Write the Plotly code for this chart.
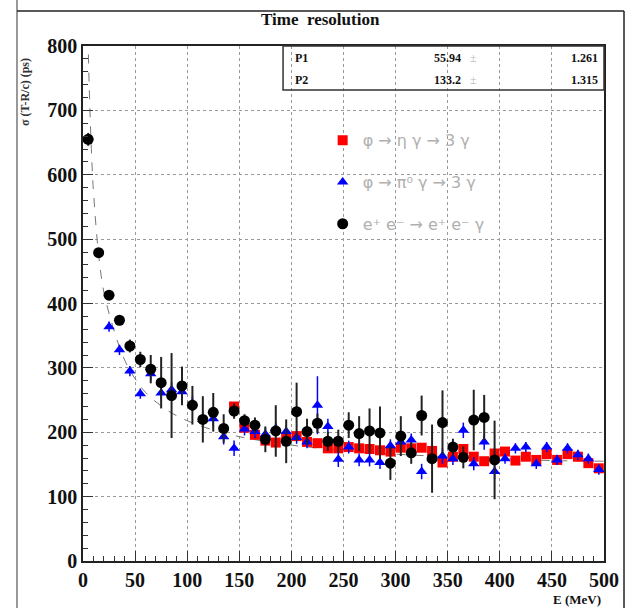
import plotly.graph_objects as go

# ---------------- data ----------------
E_black = [5, 15, 25, 35, 45, 55, 65, 75, 85, 95, 105, 115, 125, 135, 145, 155, 165, 175, 185, 195,
           205, 215, 225, 235, 245, 255, 265, 275, 285, 295, 305, 315, 325, 335, 345, 355, 365, 375, 385, 395]
sig_black = [655, 479, 413, 374, 334, 313, 298, 277, 257, 272, 242, 220, 231, 206, 233, 218, 211, 189, 202, 186,
             232, 201, 214, 186, 186, 211, 198, 202, 199, 152, 194, 168, 226, 159, 215, 177, 161, 219, 223, 157]
err_black = [10, 6, 6, 6, 10, 12, 22, 40, 66, 30, 30, 36, 30, 22, 12, 10, 12, 20, 40, 34,
             45, 20, 15, 15, 18, 20, 27, 35, 41, 26, 31, 17, 31, 53, 50, 13, 17, 47, 35, 61]

E_blue = [25, 35, 45, 55, 65, 75, 85, 95, 105, 115, 125, 135, 145, 155, 165, 175, 185, 195, 205, 215,
          225, 235, 245, 255, 265, 275, 285, 295, 305, 315, 325, 335, 345, 355, 365, 375, 385, 395, 405, 415,
          425, 435, 445, 455, 465, 475, 485, 495]
sig_blue = [364, 328, 295, 260, 291, 261, 266, 263, 245, 220, 221, 193, 175, 205, 201, 197, 206, 201, 192, 185,
            242, 209, 158, 177, 157, 157, 153, 179, 185, 188, 139, 160, 163, 159, 203, 151, 185, 139, 159, 175,
            177, 151, 177, 157, 175, 165, 159, 142]
err_blue = [8, 8, 8, 8, 10, 10, 12, 12, 12, 12, 12, 12, 12, 10, 10, 10, 10, 10, 10, 10,
            45, 12, 12, 10, 10, 10, 10, 10, 10, 10, 12, 12, 12, 10, 12, 10, 12, 12, 8, 8,
            8, 8, 8, 8, 8, 8, 8, 8]

E_red = [145, 155, 165, 175, 185, 195, 205, 215, 225, 235, 245, 255, 265, 275, 285, 295, 305, 315,
         325, 335, 345, 355, 365, 375, 385, 395, 405, 415, 425, 435, 445, 455, 465, 475, 485, 495]
sig_red = [240, 207, 196, 187, 184, 192, 194, 185, 183, 175, 175, 177, 175, 174, 172, 170, 176, 175,
           176, 171, 153, 162, 174, 162, 155, 167, 170, 156, 162, 157, 166, 157, 166, 162, 152, 144]
err_red = [4] * len(E_red)

# fit curve
E_fit = [4.8, 6, 8, 10, 15, 20, 30, 40, 50, 60, 80, 100, 130, 160, 200, 250, 300, 350, 400, 450, 500]
sig_fit = [815, 735, 641, 575, 476, 418, 357, 312, 283, 262, 235, 218, 201, 190, 180, 172, 166, 162, 159, 156, 155]

fit_names = ["P1", "P2"]
fit_vals = ["55.94", "133.2"]
fit_errs = ["1.261", "1.315"]

labels = ["\u03c6 \u2192 \u03b7 \u03b3 \u2192 3 \u03b3",
          "\u03c6 \u2192 \u03c0\u2070 \u03b3 \u2192 3 \u03b3",
          "e\u207a e\u207b \u2192 e\u207a e\u207b \u03b3"]

# ---------------- figure ----------------
fig = go.Figure()

fig.add_trace(go.Scatter(x=E_fit, y=sig_fit, mode="lines", line_shape="spline",
                         line=dict(color="#777777", width=1, dash="dash"),
                         showlegend=False, hoverinfo="skip"))

fig.add_trace(go.Scatter(x=E_red, y=sig_red, mode="markers", name=labels[0], legendgroup="g1",
                         marker=dict(symbol="square", size=10, color="#ff0000"),
                         error_y=dict(type="data", array=err_red, color="#ff0000", thickness=1.5, width=0)))
fig.add_trace(go.Scatter(x=E_blue, y=sig_blue, mode="markers", name=labels[1], legendgroup="g2",
                         marker=dict(symbol="triangle-up", size=10, color="#0000ff"),
                         error_y=dict(type="data", array=err_blue, color="#0000ff", thickness=1.5, width=0)))
fig.add_trace(go.Scatter(x=E_black, y=sig_black, mode="markers", name=labels[2], legendgroup="g3",
                         marker=dict(symbol="circle", size=11, color="#000000"),
                         error_y=dict(type="data", array=err_black, color="#222222", thickness=2, width=0)))

tickfont = dict(family="Liberation Serif", size=20, color="#111111", weight="bold")
common = dict(showline=True, linecolor="#222222", linewidth=1.5, mirror=True,
              ticks="inside", ticklen=10, tickcolor="#333333",
              showgrid=True, gridcolor="#999999", griddash="dot", gridwidth=1,
              zeroline=False, tickfont=tickfont)
fig.update_xaxes(range=[0, 500], dtick=50, tick0=0,
                 minor=dict(dtick=10, ticks="inside", ticklen=5, tickcolor="#333333"), **common)
fig.update_yaxes(range=[0, 800], dtick=100, tick0=0,
                 minor=dict(dtick=20, ticks="inside", ticklen=5, tickcolor="#333333"), **common)

fig.update_layout(
    width=633, height=608,
    margin=dict(l=83, r=29, t=46, b=47),
    plot_bgcolor="white", paper_bgcolor="white",
    legend=dict(x=0.46, y=0.85, xanchor="left", yanchor="top", bgcolor="rgba(0,0,0,0)",
                font=dict(family="DejaVu Sans", size=16, color="#b0b0b0"), tracegroupgap=18),
)

ann = []
ann.append(dict(text="<b>Time  resolution</b>", x=0.455, y=1.0524, xref="paper", yref="paper",
                xanchor="center", yanchor="middle",
                showarrow=False, font=dict(family="Liberation Serif", size=17, color="#111111")))
ann.append(dict(text="<b>\u03c3 (T-R/c) (ps)</b>", x=-0.11, y=0.91, xref="paper", yref="paper",
                xanchor="center", yanchor="middle",
                textangle=-90, showarrow=False, font=dict(family="Liberation Serif", size=12, color="#333333")))
ann.append(dict(text="<b>E (MeV)</b>", x=0.948, y=-0.0757, xref="paper", yref="paper",
                xanchor="center", yanchor="middle",
                showarrow=False, font=dict(family="Liberation Serif", size=13, color="#111111")))
row_y = [0.9767, 0.934]
for i in range(2):
    sf = dict(family="Liberation Serif", size=12, color="#111111")
    ann.append(dict(text="<b>" + fit_names[i] + "</b>", x=0.403, y=row_y[i], xref="paper", yref="paper",
                    xanchor="left", yanchor="middle", showarrow=False, font=sf))
    ann.append(dict(text="<b>" + fit_vals[i] + "</b>", x=0.729, y=row_y[i], xref="paper", yref="paper",
                    xanchor="right", yanchor="middle", showarrow=False, font=sf))
    ann.append(dict(text="\u00b1", x=0.749, y=row_y[i], xref="paper", yref="paper",
                    xanchor="center", yanchor="middle",
                    showarrow=False, font=dict(family="Liberation Serif", size=12, color="#bbbbbb")))
    ann.append(dict(text="<b>" + fit_errs[i] + "</b>", x=0.993, y=row_y[i], xref="paper", yref="paper",
                    xanchor="right", yanchor="middle", showarrow=False, font=sf))
fig.update_layout(annotations=ann)

shapes = [
    dict(type="rect", xref="paper", yref="paper", x0=0.384, x1=1.0, y0=0.9146, y1=1.0,
         line=dict(color="#333333", width=1.5)),
    dict(type="line", xref="paper", yref="paper", x0=-0.1267, x1=-0.1267, y0=-0.1, y1=1.1,
         line=dict(color="#555555", width=1.2)),
    dict(type="line", xref="paper", yref="paper", x0=-0.1267, x1=1.0384, y0=1.068, y1=1.068,
         line=dict(color="#222222", width=1.5)),
    dict(type="line", xref="paper", yref="paper", x0=1.0384, x1=1.0384, y0=1.068, y1=-0.1,
         line=dict(color="#222222", width=1.5)),
]
fig.update_layout(shapes=shapes)

fig.write_html("out.html", config={"displayModeBar": False},
               post_script="document.body.style.margin='0px';")
